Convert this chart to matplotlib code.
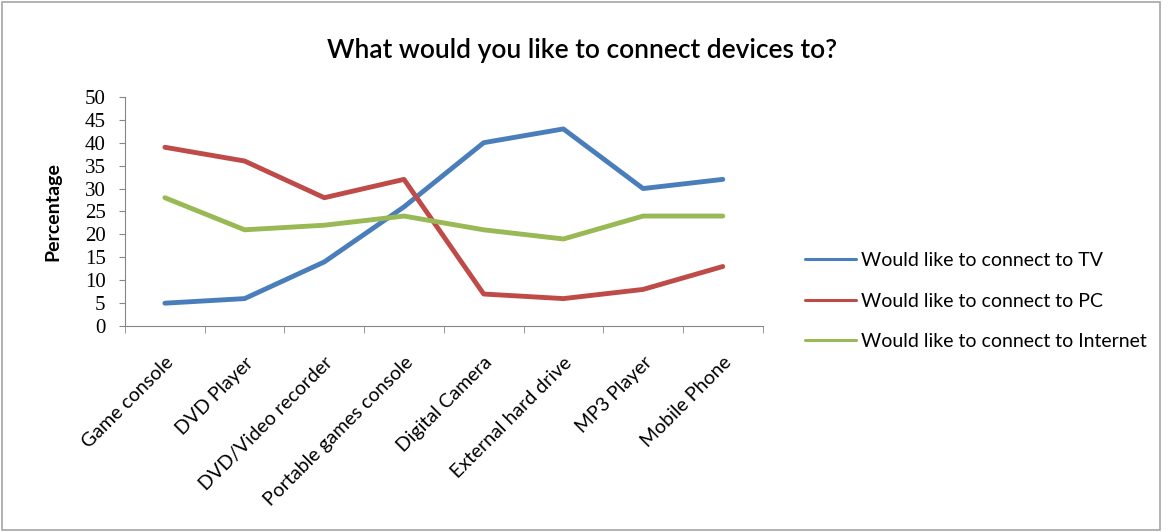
import numpy as np
import matplotlib.pyplot as plt
from matplotlib.patches import Rectangle

categories = ['Game console', 'DVD Player', 'DVD/Video recorder', 'Portable games console',
              'Digital Camera', 'External hard drive', 'MP3 Player', 'Mobile Phone']
tv = [5, 6, 14, 26, 40, 43, 30, 32]
pc = [39, 36, 28, 32, 7, 6, 8, 13]
internet = [28, 21, 22, 24, 21, 19, 24, 24]
yticks = list(range(0, 51, 5))

fig = plt.figure(figsize=(11.72, 5.32), dpi=100)
ax = fig.add_axes([0.1067, 0.387, 0.544, 0.431])

x = np.arange(len(categories))
style = dict(linewidth=3.5, solid_joinstyle='round', solid_capstyle='round')
ax.plot(x, tv, color='#4A7EBB', label='Would like to connect to TV', **style)
ax.plot(x, pc, color='#BE4B48', label='Would like to connect to PC', **style)
ax.plot(x, internet, color='#98B954', label='Would like to connect to Internet', **style)

ax.set_xlim(-0.5, len(categories) - 0.5)
ax.set_ylim(0, 50)
ax.set_yticks(yticks)
ax.set_yticklabels([str(t) for t in yticks], family='Liberation Serif', fontsize=15)

ax.set_xticks(x)
ax.set_xticklabels(categories, rotation=45, ha='right', rotation_mode='anchor',
                   family='Lato', fontsize=14)
ax.set_xticks(np.arange(-0.5, len(categories)), minor=True)
ax.tick_params(axis='x', which='major', length=0, pad=20)
ax.tick_params(axis='x', which='minor', length=5, color='#868686')
ax.tick_params(axis='y', length=4, color='#868686', pad=10)

for s in ['top', 'right']:
    ax.spines[s].set_visible(False)
for s in ['left', 'bottom']:
    ax.spines[s].set_color('#868686')

ax.set_ylabel('Percentage', family='Lato', fontweight='bold', fontsize=14, labelpad=17)

fig.text(0.497, 0.906, 'What would you like to connect devices to?', ha='center', va='center',
         family='Lato', fontsize=19, fontweight='semibold')

leg = fig.legend(loc='center left', bbox_to_anchor=(0.672, 0.434), frameon=False,
                 prop={'family': 'Lato', 'size': 14}, handlelength=2.6,
                 labelspacing=1.2, handletextpad=0.25)
for h in leg.get_lines():
    h.set_linewidth(2.2)

fig.patches.append(Rectangle((0.002, 0.004), 0.988, 0.992, transform=fig.transFigure,
                             fill=False, edgecolor='#A6A6A6', linewidth=1.2))

fig.savefig('out.png', dpi=100)
